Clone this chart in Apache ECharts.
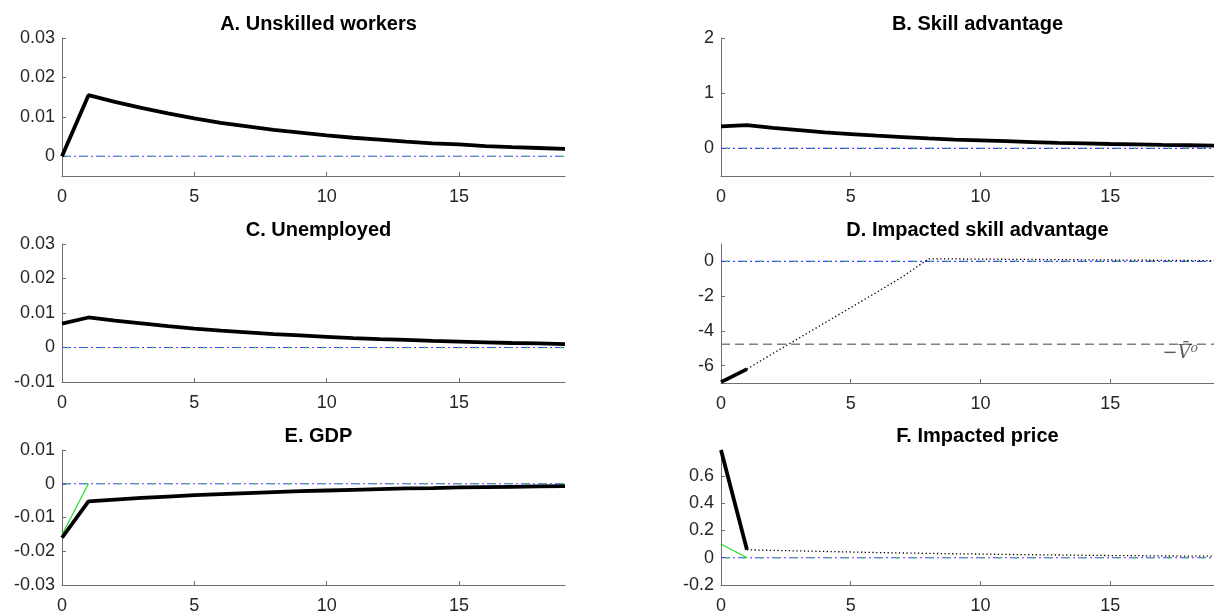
<!DOCTYPE html>
<html><head><meta charset="utf-8">
<script src="https://cdn.jsdelivr.net/npm/echarts@6/dist/echarts.min.js"></script>
<style>html,body{margin:0;padding:0;background:#fff}#c{width:1214px;height:615px}</style>
</head><body><div id="c"></div>
<script>
// ---------- data ----------
const periods = [0,1,2,3,4,5,6,7,8,9,10,11,12,13,14,15,16,17,18,19];
const xTickValues = [0,5,10,15];

const unskilledWorkers = [0,0.0155,0.0138,0.0123,0.0109,0.0096,0.0085,0.0076,0.0067,0.0060,0.0053,0.0047,0.0042,0.0037,0.0033,0.0030,0.0026,0.0023,0.0021,0.0019];
const skillAdvantage = [0.40,0.42,0.37,0.33,0.29,0.26,0.23,0.205,0.18,0.16,0.145,0.13,0.115,0.10,0.09,0.08,0.072,0.064,0.057,0.05];
const unemployed = [0.0069,0.0087,0.0078,0.0070,0.0062,0.0055,0.0049,0.0044,0.0039,0.0035,0.0031,0.0027,0.0024,0.0022,0.0019,0.0017,0.0015,0.0013,0.0012,0.0010];
const impactedSkillSolid = [-6.95,-6.2];
const impactedSkillDotted = [null,-6.2,-5.3,-4.42,-3.54,-2.66,-1.78,-0.88,0.15,0.14,0.13,0.12,0.11,0.10,0.09,0.08,0.07,0.06,0.05,0.04];
const vBar0 = -4.77;
const vBar0Label = '\u2212V\u0304\u2070';
const gdp = [-0.0160,-0.0052,-0.0047,-0.0042,-0.0038,-0.0034,-0.0031,-0.0028,-0.0025,-0.0022,-0.0020,-0.0018,-0.0016,-0.0014,-0.0013,-0.0011,-0.0010,-0.0009,-0.0008,-0.0007];
const gdpGreen = [-0.0151,0];
const priceSolid = [0.79,0.058];
const priceDotted = [null,0.058,0.054,0.050,0.046,0.042,0.038,0.035,0.032,0.029,0.027,0.024,0.022,0.020,0.018,0.016,0.015,0.013,0.012,0.011];
const priceGreen = [0.10,0];
const zeroLevel = 0;

const yTicksA = [0,0.01,0.02,0.03];
const yTicksB = [0,1,2];
const yTicksC = [-0.01,0,0.01,0.02,0.03];
const yTicksD = [-6,-4,-2,0];
const yTicksE = [-0.03,-0.02,-0.01,0,0.01];
const yTicksF = [-0.2,0,0.2,0.4,0.6];

const titles = ['A. Unskilled workers','B. Skill advantage','C. Unemployed','D. Impacted skill advantage','E. GDP','F. Impacted price'];

// ---------- helpers ----------
const pairs = arr => arr.map((v,i) => [periods[i], v]);
const FONT = '"Liberation Sans", Arial, Helvetica, sans-serif';
const AXIS_COLOR = '#6e6e6e';
const TEXT_COLOR = '#262626';
const X_FIRST = periods[0], X_LAST = periods[periods.length - 1];

const layouts = [
  {left:62, top:38, width:503, height:138},
  {left:721, top:38, width:503, height:138},
  {left:62, top:244, width:503, height:138},
  {left:721, top:244, width:503, height:139},
  {left:62, top:450, width:503, height:139},
  {left:721, top:450, width:503, height:139}
];
const yRanges = [
  {min:-0.005, max:0.03, ticks:yTicksA},
  {min:-0.5, max:2, ticks:yTicksB},
  {min:-0.01, max:0.03, ticks:yTicksC},
  {min:-7, max:1, ticks:yTicksD},
  {min:-0.03, max:0.01, ticks:yTicksE},
  {min:-0.2, max:0.79, ticks:yTicksF}
];

const grid = [], xAxis = [], yAxis = [], title = [], series = [];
const hLine = (i, level, lineStyle, z) => ({
  type:'line', xAxisIndex:i, yAxisIndex:i, silent:true, z:z, animation:false,
  data:[[X_FIRST, level],[X_LAST, level]], showSymbol:false, symbol:'none',
  lineStyle: lineStyle, itemStyle:{color: lineStyle.color}, emphasis:{disabled:true}
});
layouts.forEach((L, i) => {
  grid.push(Object.assign({containLabel:false}, L));
  title.push({
    text: titles[i], left: L.left + L.width/2, top: L.top - 29, textAlign: 'center',
    textStyle: {fontFamily: FONT, fontWeight: 'bold', fontSize: 20, color: '#000'}
  });
  xAxis.push({
    type:'value', gridIndex:i, min:0, max:19,
    axisLine:{show:true, onZero:false, lineStyle:{color:AXIS_COLOR, width:1}},
    axisTick:{show:true, inside:true, length:4, customValues:xTickValues, lineStyle:{color:AXIS_COLOR}},
    axisLabel:{customValues:xTickValues, margin:12, fontFamily:FONT, fontSize:18, color:TEXT_COLOR},
    splitLine:{show:false}
  });
  const R = yRanges[i];
  yAxis.push({
    type:'value', gridIndex:i, min:R.min, max:R.max,
    axisLine:{show:true, onZero:false, lineStyle:{color:AXIS_COLOR, width:1}},
    axisTick:{show:true, inside:true, length:4, customValues:R.ticks, lineStyle:{color:AXIS_COLOR}},
    axisLabel:{customValues:R.ticks, margin:7, fontFamily:FONT, fontSize:18, color:TEXT_COLOR, formatter: v => String(v)},
    splitLine:{show:false}
  });
  series.push(hLine(i, zeroLevel, {color:'#4040ff', width:1.1, type:[9,3,2,3]}, 2));
  series.push(hLine(i, zeroLevel, {color:'#22e022', width:1.3, type:[2,15], dashOffset:-5}, 3));
});

const thick = (i, data) => ({type:'line', xAxisIndex:i, yAxisIndex:i, data:pairs(data), showSymbol:false, symbol:'none',
  lineStyle:{color:'#000', width:3.8}, itemStyle:{color:'#000'}, z:5, animation:false});
const dotted = (i, data) => ({type:'line', xAxisIndex:i, yAxisIndex:i, data:pairs(data), showSymbol:false, symbol:'none',
  lineStyle:{color:'#000', width:1.3, type:[1.3,2.5]}, itemStyle:{color:'#000'}, z:4, animation:false});
const green = (i, data) => ({type:'line', xAxisIndex:i, yAxisIndex:i, data:pairs(data), showSymbol:false, symbol:'none',
  lineStyle:{color:'#22e022', width:1.2}, itemStyle:{color:'#22e022'}, z:3, animation:false});

series.push(thick(0, unskilledWorkers));
series.push(thick(1, skillAdvantage));
series.push(thick(2, unemployed));
series.push(dotted(3, impactedSkillDotted));
series.push(thick(3, impactedSkillSolid));
series.push(hLine(3, vBar0, {color:'#808080', width:1.6, type:[9,5]}, 2));
series.push({
  type:'scatter', xAxisIndex:3, yAxisIndex:3, data:[[17.7, vBar0]], symbolSize:0, silent:true,
  label:{show:true, position:'bottom', distance:0, formatter: vBar0Label,
    fontFamily:'"DejaVu Serif", "Liberation Serif", serif', fontStyle:'italic', fontSize:18, color:'#333'}
});
series.push(green(4, gdpGreen));
series.push(thick(4, gdp));
series.push(green(5, priceGreen));
series.push(dotted(5, priceDotted));
series.push(thick(5, priceSolid));

const chart = echarts.init(document.getElementById('c'), null, {renderer:'canvas'});
chart.setOption({animation:false, backgroundColor:'#fff', title, grid, xAxis, yAxis, series});
</script>
</body></html>
